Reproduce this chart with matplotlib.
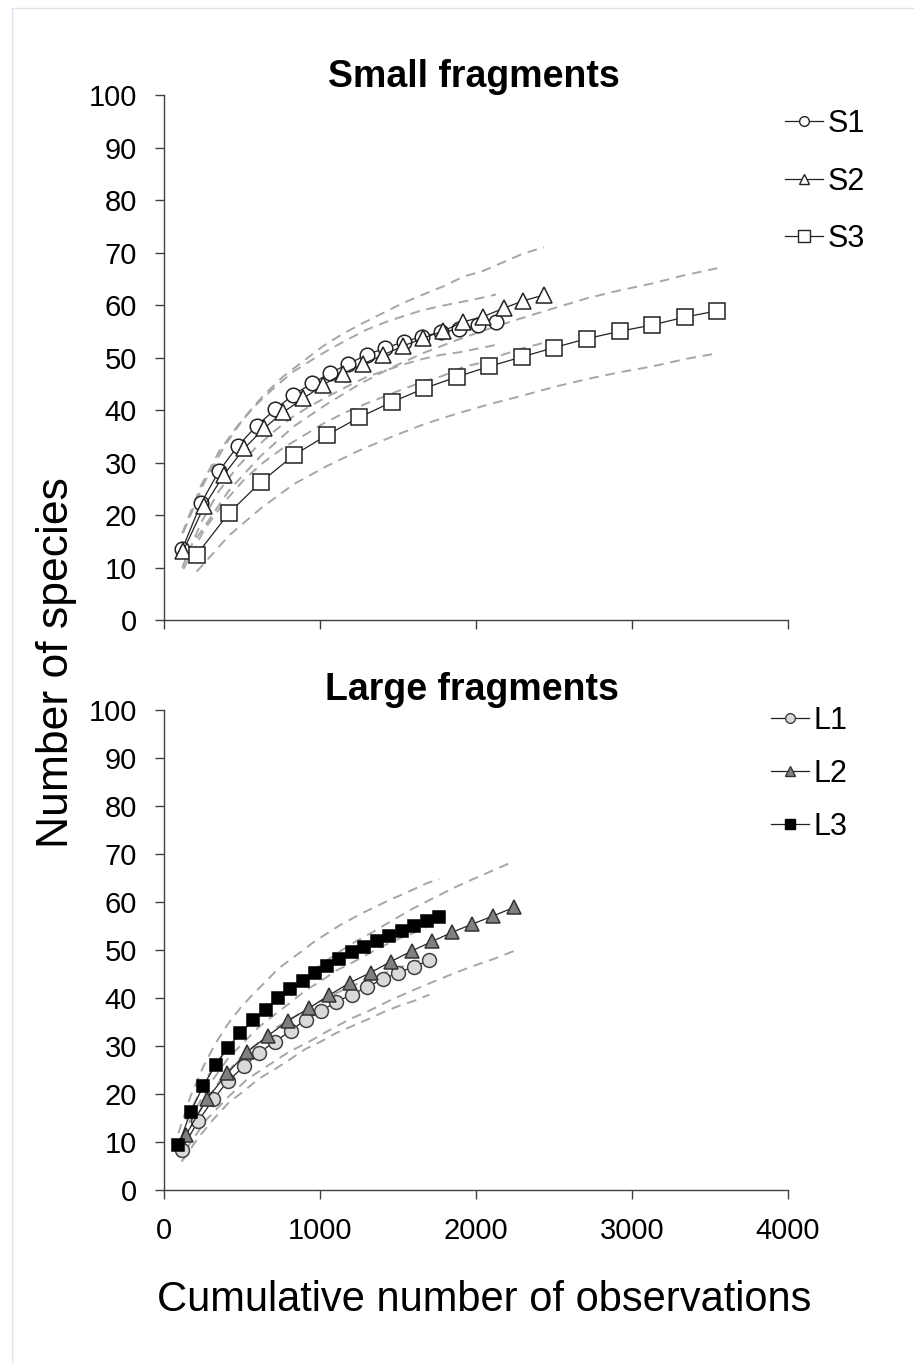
import matplotlib
matplotlib.use('Agg')
import matplotlib.pyplot as plt
from matplotlib.lines import Line2D

# --- small fragments ---
s1_x = [117, 237, 353, 472, 594, 712, 829, 951, 1064, 1182, 1299, 1417, 1538, 1656, 1774, 1893, 2011, 2128]
s1_y = [13.5, 22.2, 28.4, 33.1, 37.0, 40.1, 42.9, 45.1, 47.0, 48.8, 50.5, 51.8, 53.0, 54.0, 54.8, 55.4, 56.1, 56.8]
s1_hi = [16.5, 25.6, 32.1, 37.0, 41.1, 44.4, 47.3, 49.6, 51.6, 53.5, 55.3, 56.7, 57.9, 59.0, 59.8, 60.5, 61.2, 62.0]
s1_lo = [10.0, 18.5, 24.6, 29.2, 33.0, 36.1, 38.8, 41.0, 42.8, 44.6, 46.3, 47.5, 48.7, 49.7, 50.5, 51.0, 51.7, 52.4]

s2_x = [124, 258, 385, 515, 641, 765, 893, 1021, 1145, 1278, 1406, 1534, 1662, 1786, 1919, 2047, 2179, 2303, 2436]
s2_y = [13.2, 21.7, 27.7, 32.7, 36.5, 39.6, 42.2, 44.8, 46.9, 48.8, 50.5, 52.2, 53.7, 55.0, 56.8, 57.8, 59.4, 60.8, 61.9]
s2_hi = [16.7, 26.2, 33.0, 38.6, 42.9, 46.4, 49.3, 52.2, 54.5, 56.6, 58.5, 60.4, 62.0, 63.5, 65.4, 66.5, 68.2, 69.8, 71.0]
s2_lo = [9.7, 17.2, 22.4, 26.8, 30.1, 32.8, 35.1, 37.4, 39.3, 41.0, 42.5, 44.0, 45.4, 46.5, 48.2, 49.1, 50.6, 51.8, 52.8]

s3_x = [209, 417, 622, 833, 1043, 1252, 1460, 1667, 1876, 2085, 2293, 2502, 2713, 2923, 3130, 3340, 3547]
s3_y = [12.4, 20.4, 26.3, 31.4, 35.2, 38.6, 41.5, 44.1, 46.3, 48.3, 50.1, 51.9, 53.6, 55.0, 56.2, 57.7, 58.9]
s3_hi = [15.6, 24.7, 31.3, 36.9, 41.1, 44.9, 48.1, 50.9, 53.3, 55.5, 57.5, 59.4, 61.3, 62.8, 64.1, 65.7, 67.0]
s3_lo = [9.2, 16.1, 21.3, 25.9, 29.3, 32.3, 34.9, 37.3, 39.3, 41.1, 42.7, 44.4, 45.9, 47.2, 48.3, 49.7, 50.8]

# --- large fragments ---
l1_x = [113, 220, 316, 412, 515, 609, 712, 812, 908, 1004, 1103, 1203, 1303, 1402, 1502, 1603, 1701]
l1_y = [8.4, 14.4, 18.9, 22.8, 25.8, 28.6, 30.9, 33.2, 35.5, 37.2, 39.2, 40.7, 42.3, 43.9, 45.3, 46.5, 47.9]
l1_hi = [10.9, 17.9, 23.1, 27.5, 30.9, 34.0, 36.6, 39.1, 41.6, 43.5, 45.7, 47.3, 49.1, 50.8, 52.3, 53.6, 55.1]
l1_lo = [5.9, 10.9, 14.7, 18.1, 20.7, 23.2, 25.2, 27.3, 29.4, 30.9, 32.7, 34.1, 35.5, 37.0, 38.3, 39.4, 40.7]

l2_x = [141, 273, 406, 534, 665, 797, 930, 1060, 1192, 1325, 1455, 1588, 1720, 1848, 1976, 2111, 2244]
l2_y = [11.5, 18.9, 24.3, 28.8, 32.1, 35.3, 37.9, 40.6, 43.2, 45.3, 47.6, 49.8, 51.8, 53.7, 55.4, 57.1, 58.9]
l2_hi = [14.5, 23.3, 29.6, 34.8, 38.6, 42.2, 45.2, 48.2, 51.1, 53.5, 56.0, 58.5, 60.7, 62.8, 64.7, 66.6, 68.5]
l2_lo = [8.5, 14.7, 19.2, 23.1, 25.9, 28.7, 30.9, 33.3, 35.6, 37.5, 39.6, 41.5, 43.3, 45.0, 46.6, 48.1, 49.8]

l3_x = [92, 171, 252, 331, 408, 489, 573, 652, 729, 810, 889, 970, 1043, 1124, 1203, 1284, 1363, 1442, 1523, 1604, 1684, 1765]
l3_y = [9.3, 16.3, 21.7, 26.1, 29.6, 32.7, 35.4, 37.6, 40.0, 41.8, 43.5, 45.3, 46.7, 48.2, 49.5, 50.7, 51.8, 53.0, 54.0, 55.1, 56.1, 56.9]
l3_hi = [11.8, 19.6, 25.7, 30.6, 34.5, 37.9, 40.9, 43.4, 46.0, 48.0, 49.9, 51.9, 53.4, 55.1, 56.5, 57.9, 59.1, 60.4, 61.5, 62.7, 63.9, 64.8]
l3_lo = [6.8, 13.0, 17.7, 21.6, 24.7, 27.5, 29.9, 31.8, 34.0, 35.6, 37.1, 38.7, 40.0, 41.3, 42.5, 43.5, 44.5, 45.6, 46.5, 47.5, 48.3, 49.0]

x_ticks = [0, 1000, 2000, 3000, 4000]
y_ticks = list(range(0, 101, 10))

plt.rcParams['font.family'] = ['Liberation Sans', 'DejaVu Sans']

DASH = '#a6a6a6'
AX = '#404040'

fig = plt.figure(figsize=(9.14, 13.63), dpi=100)
ax1 = fig.add_axes([164/914, 1-620/1363, 624/914, 525/1363])
ax2 = fig.add_axes([164/914, 1-1190/1363, 624/914, 480/1363])


def style_axes(ax, show_xlabels):
    ax.set_xlim(0, 4000)
    ax.set_ylim(0, 100)
    ax.set_xticks(x_ticks)
    ax.set_yticks(y_ticks)
    for s in ['top', 'right']:
        ax.spines[s].set_visible(False)
    for s in ['left', 'bottom']:
        ax.spines[s].set_color(AX)
        ax.spines[s].set_linewidth(1.0)
    ax.tick_params(direction='out', length=6.5, width=1.0, color=AX,
                   labelsize=21, pad=13)
    if not show_xlabels:
        ax.tick_params(axis='x', labelbottom=False)


def series(ax, x, y, hi, lo, marker, ms, face, edge, label):
    kw = dict(color=DASH, lw=1.4, dashes=[5, 3.5], zorder=1)
    ax.plot(x, hi, **kw)
    ax.plot(x, lo, **kw)
    ax.plot(x, y, color='#222222', lw=0.9, marker=marker, ms=ms,
            mfc=face, mec=edge, mew=1.1, zorder=3, label=label, clip_on=False)


series(ax1, s1_x, s1_y, s1_hi, s1_lo, 'o', 10.5, 'white', '#222222', 'S1')
series(ax1, s2_x, s2_y, s2_hi, s2_lo, '^', 11, 'white', '#222222', 'S2')
series(ax1, s3_x, s3_y, s3_hi, s3_lo, 's', 11, 'white', '#222222', 'S3')

series(ax2, l1_x, l1_y, l1_hi, l1_lo, 'o', 10, '#d9d9d9', '#404040', 'L1')
series(ax2, l2_x, l2_y, l2_hi, l2_lo, '^', 10, '#808080', '#333333', 'L2')
series(ax2, l3_x, l3_y, l3_hi, l3_lo, 's', 8.5, 'black', 'black', 'L3')

style_axes(ax1, False)
style_axes(ax2, True)

fig.text(474/914, 1-77/1363, 'Small fragments', ha='center', va='center',
         fontsize=27, fontweight='bold')
fig.text(472/914, 1-690/1363, 'Large fragments', ha='center', va='center',
         fontsize=27, fontweight='bold')

fig.text(57/914, 1-663/1363, 'Number of species', rotation=90, ha='center',
         va='center', fontsize=32)
fig.text(484/914, 1-1300/1363, 'Cumulative number of observations',
         ha='center', va='center', fontsize=30)


def legend_for(ax, anchor, handles_ms, spacing):
    h, lab = ax.get_legend_handles_labels()
    hs = []
    for hh, m in zip(h, handles_ms):
        hs.append(Line2D([0], [0], color='#222222', lw=0.9, marker=hh.get_marker(),
                         ms=m, mfc=hh.get_mfc(), mec=hh.get_mec(), mew=1.0))
    leg = ax.legend(hs, lab, loc='upper left', bbox_to_anchor=anchor,
                    bbox_transform=fig.transFigure, frameon=False,
                    fontsize=22, handlelength=1.25, handletextpad=0.15,
                    labelspacing=spacing, borderpad=0, borderaxespad=0)
    return leg


legend_for(ax1, (785/914, 1-109/1363), [7, 7.5, 8], 0.9)
legend_for(ax2, (771/914, 1-706/1363), [7, 7.5, 7], 0.75)

# faint frame around the page
fig.add_artist(Line2D([12/914, 1], [1-8/1363, 1-8/1363], color='#dde3ea', lw=1))
fig.add_artist(Line2D([12/914, 12/914], [0, 1-8/1363], color='#dde3ea', lw=1))

fig.savefig('out.png', dpi=100)
